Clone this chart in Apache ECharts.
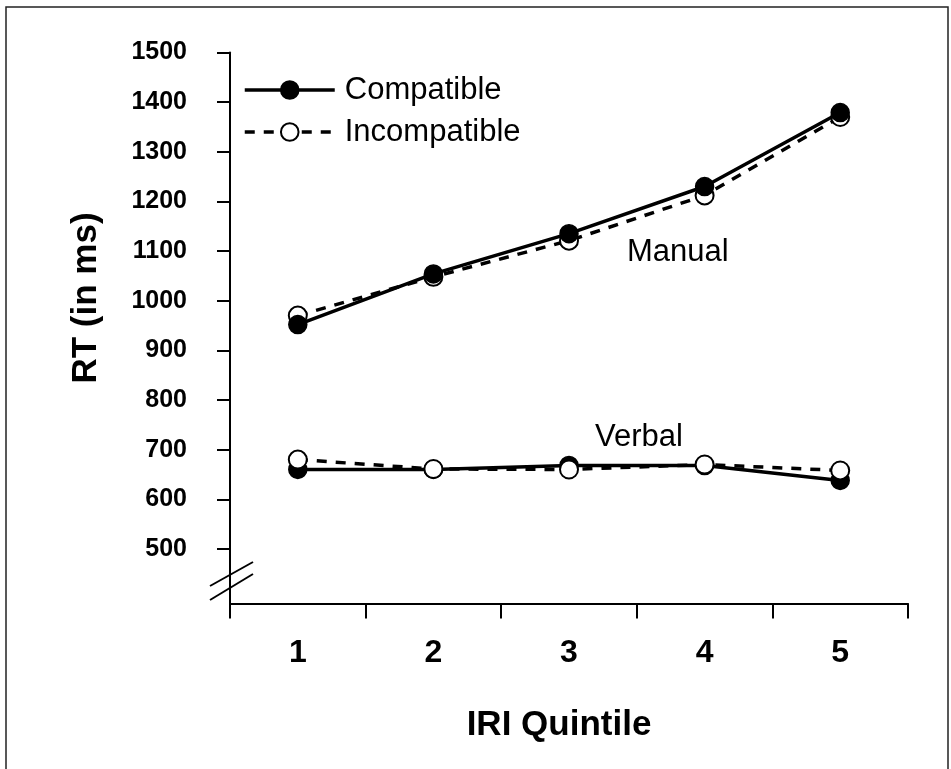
<!DOCTYPE html>
<html>
<head>
<meta charset="utf-8">
<script src="https://cdn.jsdelivr.net/npm/echarts@6/dist/echarts.min.js"></script>
<style>
	html, body { margin: 0; padding: 0; background: #fff; }
	#chart { width: 951px; height: 769px; }
</style>
</head>
<body>
<div id="chart"></div>
<script>
// datos
var categorias = ['1', '2', '3', '4', '5'];
var manualCompatible = [952, 1054, 1135, 1230, 1379];
var manualIncompatible = [970, 1048, 1121, 1212, 1370];
var verbalCompatible = [660, 660, 668, 668, 638];
var verbalIncompatible = [680, 661, 660, 670, 658];
var marcasY = [500, 600, 700, 800, 900, 1000, 1100, 1200, 1300, 1400, 1500];

var fuente = 'Liberation Sans, Arial, sans-serif';

function serieCompatible(data, z) {
	return {
		name: 'Compatible',
		type: 'line',
		data: data,
		z: z,
		symbol: 'circle',
		symbolSize: 18,
		lineStyle: { color: '#000', width: 3.5 },
		itemStyle: { color: '#000', borderColor: '#000', borderWidth: 1.5 }
	};
}

function serieIncompatible(data, z) {
	return {
		name: 'Incompatible',
		type: 'line',
		data: data,
		z: z,
		symbol: 'circle',
		symbolSize: 18,
		lineStyle: { color: '#000', width: 3.5, type: [10, 9] },
		itemStyle: { color: '#fff', borderColor: '#000', borderWidth: 2 }
	};
}

function initChart() {
	var dom = document.getElementById('chart');
	var myChart = echarts.init(dom);

	var option = {
		animation: false,
		textStyle: { fontFamily: fuente },
		grid: {
			left: 230,
			top: 52.5,
			width: 678,
			height: 551,
			containLabel: false
		},
		legend: {
			data: ['Compatible', 'Incompatible'],
			orient: 'vertical',
			left: 243,
			top: 72,
			padding: 0,
			itemWidth: 90,
			itemHeight: 22,
			itemGap: 6,
			lineStyle: { width: 3.5 },
			textStyle: { fontSize: 31, color: '#000', fontFamily: fuente, lineHeight: 36, padding: [0, 0, 0, 5] }
		},
		xAxis: {
			type: 'category',
			data: categorias,
			boundaryGap: true,
			axisLine: { lineStyle: { color: '#000', width: 2 } },
			axisTick: { show: true, length: 15, lineStyle: { color: '#000', width: 2 }, interval: 0 },
			axisLabel: { fontSize: 32, fontWeight: 'bold', color: '#000', margin: 34 },
			splitLine: { show: false }
		},
		yAxis: {
			type: 'value',
			min: 390,
			max: 1500,
			axisLine: { show: true, lineStyle: { color: '#000', width: 2 } },
			axisTick: { show: true, length: 13, customValues: marcasY, lineStyle: { color: '#000', width: 2 } },
			axisLabel: {
				fontSize: 25,
				fontWeight: 'bold',
				color: '#000',
				margin: 43,
				customValues: marcasY,
				formatter: function (v) { return String(v); }
			},
			splitLine: { show: false }
		},
		graphic: [
			{
				type: 'rect',
				shape: { x: 6, y: 7, width: 942, height: 800 },
				style: { fill: null, stroke: '#222', lineWidth: 1.5 },
				silent: true
			},
			{
				type: 'line',
				shape: { x1: 210, y1: 586, x2: 253, y2: 562 },
				style: { stroke: '#000', lineWidth: 2 }
			},
			{
				type: 'line',
				shape: { x1: 210, y1: 600, x2: 253, y2: 574 },
				style: { stroke: '#000', lineWidth: 2 }
			},
			{
				type: 'text',
				x: 86, y: 298,
				rotation: Math.PI / 2,
				style: { text: 'RT (in ms)', font: 'bold 35px ' + fuente, fill: '#000', align: 'center', verticalAlign: 'middle' }
			},
			{
				type: 'text',
				x: 559, y: 725,
				style: { text: 'IRI Quintile', font: 'bold 35px ' + fuente, fill: '#000', align: 'center', verticalAlign: 'middle' }
			},
			{
				type: 'text',
				x: 627, y: 252,
				style: { text: 'Manual', font: '31px ' + fuente, fill: '#000', align: 'left', verticalAlign: 'middle' }
			},
			{
				type: 'text',
				x: 595, y: 437,
				style: { text: 'Verbal', font: '31px ' + fuente, fill: '#000', align: 'left', verticalAlign: 'middle' }
			}
		],
		series: [
			serieCompatible(verbalCompatible, 2),
			serieIncompatible(verbalIncompatible, 3),
			serieIncompatible(manualIncompatible, 2),
			serieCompatible(manualCompatible, 3)
		]
	};

	myChart.setOption(option, true);
}

initChart();
</script>
</body>
</html>
